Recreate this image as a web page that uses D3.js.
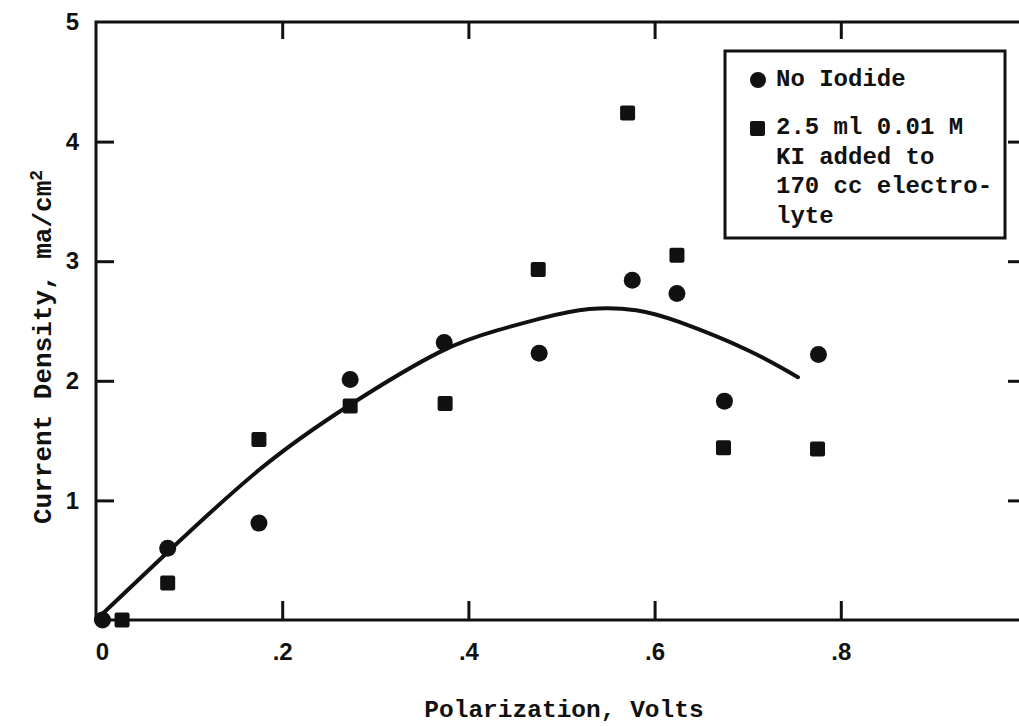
<!DOCTYPE html>
<html>
<head>
<meta charset="utf-8">
<script src="https://cdn.jsdelivr.net/npm/d3@7/dist/d3.min.js"></script>
<style>
  html, body { margin: 0; padding: 0; background: #fff; }
  svg { display: block; }
</style>
</head>
<body>
<svg id="chart" width="1019" height="726"></svg>
<script>
// Polarization (V) vs current density (ma/cm^2)
const noIodideX = [0.007, 0.077, 0.175, 0.273, 0.374, 0.476, 0.576, 0.624, 0.675, 0.776];
const noIodideY = [0.00, 0.60, 0.81, 2.01, 2.32, 2.23, 2.84, 2.73, 1.83, 2.22];

const iodideX = [0.028, 0.077, 0.175, 0.273, 0.375, 0.475, 0.571, 0.624, 0.674, 0.775];
const iodideY = [0.00, 0.31, 1.51, 1.79, 1.81, 2.93, 4.24, 3.05, 1.44, 1.43];

// Hand-drawn trend curve
const curveX = [0, 0.076, 0.176, 0.273, 0.369, 0.43, 0.477, 0.53, 0.58, 0.627, 0.699, 0.754];
const curveY = [0, 0.56, 1.26, 1.80, 2.24, 2.42, 2.52, 2.60, 2.59, 2.49, 2.26, 2.03];

const xTicks = [0, 0.2, 0.4, 0.6, 0.8];
const xTickLabels = ["0", ".2", ".4", ".6", ".8"];
const yTicks = [1, 2, 3, 4, 5];
const yTickLabels = ["1", "2", "3", "4", "5"];

const legendLines = ["2.5 ml 0.01 M", "KI added to", "170 cc electro-", "lyte"];

const svg = d3.select("#chart");
const ink = "#111";
const mono = "'Liberation Mono', 'Courier New', monospace";
const sans = "'Liberation Sans', Arial, sans-serif";

const x = d3.scaleLinear().domain([0, 1]).range([96, 1027]);
const y = d3.scaleLinear().domain([0, 5]).range([620, 22]);

// Frame
svg.append("rect")
  .attr("x", x(0)).attr("y", y(5))
  .attr("width", x(1) - x(0)).attr("height", y(0) - y(5))
  .attr("fill", "none").attr("stroke", ink).attr("stroke-width", 3);

function styleAxis(g) {
  g.select(".domain").remove();
  g.selectAll(".tick line").attr("stroke", ink).attr("stroke-width", 3);
  g.selectAll(".tick text").attr("fill", ink)
    .style("font-family", sans).style("font-size", "24px").style("font-weight", "bold");
}

// Bottom axis with inward ticks
svg.append("g")
  .attr("transform", `translate(0,${y(0)})`)
  .call(d3.axisBottom(x).tickValues(xTicks).tickSize(-19).tickPadding(23)
    .tickFormat((d, i) => xTickLabels[i]))
  .call(styleAxis)
  .call(g => g.selectAll(".tick").filter(d => d === 0).select("line").remove())
  .call(g => g.selectAll(".tick").filter(d => d === 0).select("text").attr("dx", 6));

// Top axis ticks
svg.append("g")
  .attr("transform", `translate(0,${y(5)})`)
  .call(d3.axisTop(x).tickValues(xTicks.filter(d => d > 0)).tickSize(-17).tickFormat(""))
  .call(styleAxis);

// Left axis
svg.append("g")
  .attr("transform", `translate(${x(0)},0)`)
  .call(d3.axisLeft(y).tickValues(yTicks).tickSize(-18).tickPadding(17)
    .tickFormat((d, i) => yTickLabels[i]))
  .call(styleAxis)
  .call(g => g.selectAll(".tick").filter(d => d === 5).select("line").remove());

// Right axis ticks
svg.append("g")
  .attr("transform", `translate(${x(1)},0)`)
  .call(d3.axisRight(y).tickValues(yTicks.filter(d => d < 5)).tickSize(-19).tickFormat(""))
  .call(styleAxis);

// Trend curve
const line = d3.line()
  .x(d => x(d[0])).y(d => y(d[1]))
  .curve(d3.curveNatural);
svg.append("path")
  .datum(curveX.map((v, i) => [v, curveY[i]]))
  .attr("d", line)
  .attr("fill", "none").attr("stroke", ink).attr("stroke-width", 4)
  .attr("stroke-linecap", "round");

// Markers
const sq = 15;
svg.append("g").selectAll("rect")
  .data(iodideX.map((v, i) => [v, iodideY[i]]))
  .join("rect")
  .attr("x", d => x(d[0]) - sq / 2).attr("y", d => y(d[1]) - sq / 2)
  .attr("width", sq).attr("height", sq).attr("rx", 2)
  .attr("fill", ink);

svg.append("g").selectAll("circle")
  .data(noIodideX.map((v, i) => [v, noIodideY[i]]))
  .join("circle")
  .attr("cx", d => x(d[0])).attr("cy", d => y(d[1])).attr("r", 8.5)
  .attr("fill", ink);

// Legend
const legend = svg.append("g");
legend.append("rect")
  .attr("x", 725).attr("y", 51).attr("width", 280).attr("height", 187)
  .attr("fill", "#fff").attr("stroke", ink).attr("stroke-width", 3);
legend.append("circle").attr("cx", 758).attr("cy", 80).attr("r", 8).attr("fill", ink);
legend.append("rect").attr("x", 750).attr("y", 121).attr("width", sq).attr("height", sq)
  .attr("rx", 2).attr("fill", ink);
legend.append("text")
  .attr("x", 776).attr("y", 86)
  .attr("fill", ink).style("font-family", mono).style("font-size", "24px").style("font-weight", "bold")
  .text("No Iodide");
legend.append("g").selectAll("text")
  .data(legendLines)
  .join("text")
  .attr("x", 776).attr("y", (d, i) => 134 + i * 29.5)
  .attr("fill", ink).style("font-family", mono).style("font-size", "24px").style("font-weight", "bold")
  .text(d => d);

// Axis titles
svg.append("text")
  .attr("x", 564).attr("y", 717)
  .attr("text-anchor", "middle")
  .attr("fill", ink).style("font-family", mono).style("font-size", "24.5px").style("font-weight", "bold")
  .text("Polarization, Volts");

const yTitle = svg.append("text")
  .attr("transform", "translate(51,524) rotate(-90)")
  .attr("text-anchor", "start")
  .attr("fill", ink).style("font-family", mono).style("font-size", "26px").style("font-weight", "bold");
yTitle.append("tspan").text("Current Density, ma/cm");
yTitle.append("tspan").attr("dy", "-0.5em").style("font-size", "18px").text("2");
</script>
</body>
</html>
